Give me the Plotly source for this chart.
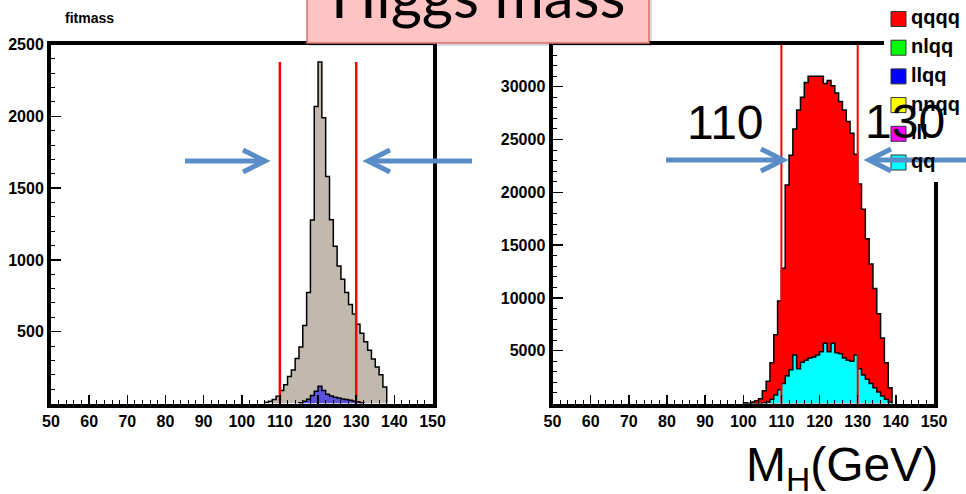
import plotly.graph_objects as go

W, H = 966, 494


def X(p):
    return p / W


def Y(p):
    return 1 - p / H


# ---------------- data ----------------
# left panel: fitmass (1 GeV bins, lower edges)
bins_left = [106, 107, 108, 109, 110, 111, 112, 113, 114, 115, 116, 117, 118, 119, 120, 121,
             122, 123, 124, 125, 126, 127, 128, 129, 130, 131, 132, 133, 134, 135, 136, 137]
fitmass_all = [8, 15, 27, 51, 90, 131, 188, 234, 314, 394, 543, 773, 1278, 2069, 2378, 1990,
               1580, 1280, 1095, 958, 865, 773, 690, 624, 552, 490, 430, 370, 310, 255, 200, 115]
bins_llqq = [115, 116, 117, 118, 119, 120, 121, 122, 123, 124, 125, 126, 127, 128, 129, 130, 131]
fitmass_llqq = [5, 15, 30, 55, 85, 120, 90, 65, 52, 44, 38, 32, 27, 22, 18, 12, 5]

# right panel: stacked by channel
bins_right = [100, 101, 102, 103, 104, 105, 106, 107, 108, 109, 110, 111, 112, 113, 114, 115,
              116, 117, 118, 119, 120, 121, 122, 123, 124, 125, 126, 127, 128, 129, 130, 131,
              132, 133, 134, 135, 136, 137, 138]
qq = [0, 0, 0, 0, 0, 80, 150, 400, 800, 1300, 1900, 2600, 3200, 4600, 3300, 3900,
      4100, 4300, 4400, 4600, 4900, 5700, 4900, 5700, 4800, 4700, 4300, 4100, 4000, 4600, 3300, 2700,
      2300, 1900, 1500, 1100, 700, 400, 150]
qqqq = [60, 0, 150, 250, 450, 1120, 1950, 3450, 5700, 8400, 10900, 18100, 20300, 21400, 24500, 25100,
        26300, 26700, 26600, 26400, 26100, 24600, 25700, 24400, 24600, 23900, 23500, 22600, 21600, 19000, 17500, 15700,
        13300, 11300, 9400, 7400, 5500, 3450, 1350]

cut_lo, cut_hi = 110, 130
x_ticks = [50, 60, 70, 80, 90, 100, 110, 120, 130, 140, 150]
y_ticks_left = [500, 1000, 1500, 2000, 2500]
y_ticks_right = [5000, 10000, 15000, 20000, 25000, 30000]
x_range = [50, 150]
y_range_left = [0, 2500]
y_range_right = [0, 34000]
legend_labels = ["qqqq", "nlqq", "llqq", "nnqq", "lll", "qq"]
legend_colors = ["#ff0000", "#00ff00", "#0000ff", "#ffff00", "#ff00ff", "#00ffff"]


def step(bins, vals):
    xs = [bins[0]] + list(bins) + [bins[-1] + 1]
    ys = [0] + list(vals) + [0]
    return xs, ys


fig = go.Figure()

# left panel
xs, ys = step(bins_left, fitmass_all)
fig.add_trace(go.Scatter(x=xs, y=ys, mode="lines", line=dict(shape="hv", color="black", width=1.5),
                         fill="tozeroy", fillcolor="#c1b8ae", xaxis="x", yaxis="y", hoverinfo="skip"))
xs, ys = step(bins_llqq, fitmass_llqq)
fig.add_trace(go.Scatter(x=xs, y=ys, mode="lines", line=dict(shape="hv", color="black", width=1.5),
                         fill="tozeroy", fillcolor="#5b50dc", xaxis="x", yaxis="y", hoverinfo="skip"))
for c in (cut_lo, cut_hi):
    fig.add_trace(go.Scatter(x=[c, c], y=[0, max(fitmass_all)], mode="lines",
                             line=dict(color="#ff0000", width=2.5), xaxis="x", yaxis="y", hoverinfo="skip"))

# right panel
total = [a + b for a, b in zip(qq, qqqq)]
xs, ys = step(bins_right, total)
fig.add_trace(go.Scatter(x=xs, y=ys, mode="lines", line=dict(shape="hv", color="black", width=1.5),
                         fill="tozeroy", fillcolor="#ff0000", xaxis="x2", yaxis="y2", hoverinfo="skip"))
xs, ys = step(bins_right, qq)
fig.add_trace(go.Scatter(x=xs, y=ys, mode="lines", line=dict(shape="hv", color="black", width=1.5),
                         fill="tozeroy", fillcolor="#00ffff", xaxis="x2", yaxis="y2", hoverinfo="skip"))
for c in (cut_lo, cut_hi):
    fig.add_trace(go.Scatter(x=[c, c], y=[0, y_range_right[1]], mode="lines",
                             line=dict(color="#ff0000", width=2), xaxis="x2", yaxis="y2", hoverinfo="skip"))

tickfont = dict(family="Liberation Sans, Arial", size=16, color="black", weight="bold")


def xaxis(domain, anchor):
    return dict(domain=domain, anchor=anchor, range=x_range, tickmode="array", tickvals=x_ticks,
                ticktext=[str(v) for v in x_ticks],
                ticks="inside", ticklen=9, tickwidth=1.5, tickcolor="black",
                minor=dict(tickmode="linear", tick0=50, dtick=2, ticks="inside", ticklen=4,
                           tickwidth=1, tickcolor="black"),
                showline=True, linewidth=4, linecolor="black", mirror=True, automargin=False,
                showgrid=False, zeroline=False, tickfont=tickfont, fixedrange=True)


def yaxis(domain, anchor, rng, tv, minor_dt):
    return dict(domain=domain, anchor=anchor, range=rng, tickmode="array", tickvals=tv,
                ticktext=[str(v) for v in tv],
                ticks="inside", ticklen=10, tickwidth=1.5, tickcolor="black",
                minor=dict(tickmode="linear", tick0=0, dtick=minor_dt, ticks="inside", ticklen=4,
                           tickwidth=1, tickcolor="black"),
                showline=True, linewidth=4, linecolor="black", mirror=True, automargin=False,
                showgrid=False, zeroline=False, tickfont=tickfont, fixedrange=True)


ydom = [Y(403.5), Y(44.5)]
shapes = []
# title box with shadow
shapes.append(dict(type="rect", xref="paper", yref="paper", x0=X(309), x1=X(652), y0=Y(46), y1=Y(-10),
                   fillcolor="rgba(0,0,0,0.15)", line=dict(width=0), layer="above"))
shapes.append(dict(type="rect", xref="paper", yref="paper", x0=X(307), x1=X(649), y0=Y(43), y1=Y(-10),
                   fillcolor="#ffc3c3", line=dict(color="#d8716f", width=1.5), layer="above"))
# legend box
shapes.append(dict(type="rect", xref="paper", yref="paper", x0=X(884), x1=X(968), y0=Y(182), y1=Y(-2),
                   fillcolor="white", line=dict(width=0), layer="above"))
for i, col in enumerate(legend_colors):
    top = 11.5 + i * 28.7
    shapes.append(dict(type="rect", xref="paper", yref="paper", x0=X(891), x1=X(906), y0=Y(top + 15), y1=Y(top),
                       fillcolor=col, line=dict(color="#333333", width=1), layer="above"))

# arrows
arrow_col = "#5a8dc8"


def arrow(x_from, x_to, y):
    d = 1 if x_to > x_from else -1
    shapes.append(dict(type="line", xref="paper", yref="paper", x0=X(x_from), x1=X(x_to - d * 2), y0=Y(y), y1=Y(y),
                       line=dict(color=arrow_col, width=5), layer="above"))
    path = "M {},{} L {},{} L {},{}".format(X(x_to - d * 22), Y(y - 11), X(x_to), Y(y), X(x_to - d * 22), Y(y + 11))
    shapes.append(dict(type="path", xref="paper", yref="paper", path=path,
                       line=dict(color=arrow_col, width=5), layer="above"))


arrow(185, 265, 161)
arrow(472, 368, 161)
arrow(666, 783, 160)
arrow(970, 869, 160)

annotations = []
annotations.append(dict(text="fitmass", x=X(89), y=Y(18), xref="paper", yref="paper", showarrow=False,
                        xanchor="center", yanchor="middle",
                        font=dict(family="Liberation Sans, Arial", size=14, color="black", weight="bold")))
annotations.append(dict(text="Higgs mass", x=X(478), y=Y(-5), xref="paper", yref="paper", showarrow=False,
                        xanchor="center", yanchor="middle",
                        font=dict(family="Lato, Open Sans", size=60, color="black")))
annotations.append(dict(text="110", x=X(725), y=Y(122), xref="paper", yref="paper", showarrow=False,
                        xanchor="center", yanchor="middle",
                        font=dict(family="Liberation Sans, Arial", size=48, color="black")))
annotations.append(dict(text="130", x=X(905), y=Y(121), xref="paper", yref="paper", showarrow=False,
                        xanchor="center", yanchor="middle",
                        font=dict(family="Liberation Sans, Arial", size=48, color="black")))
annotations.append(dict(text="M<sub>H</sub>(GeV)", x=X(744), y=Y(468), xref="paper", yref="paper", showarrow=False,
                        xanchor="left", yanchor="middle",
                        font=dict(family="Liberation Sans, Arial", size=48, color="black")))
for i, lab in enumerate(legend_labels):
    cy = 19 + i * 28.7
    annotations.append(dict(text=lab, x=X(909), y=Y(cy - 1.5), xref="paper", yref="paper", showarrow=False,
                            xanchor="left", yanchor="middle",
                            font=dict(family="Liberation Sans, Arial", size=20, color="black", weight="bold")))

fig.update_layout(
    width=W, height=H, margin=dict(l=0, r=0, t=0, b=0),
    paper_bgcolor="white", plot_bgcolor="white", showlegend=False,
    xaxis=xaxis([X(51), X(432.5)], "y"),
    yaxis=yaxis(ydom, "x", y_range_left, y_ticks_left, 100),
    xaxis2=xaxis([X(552.5), X(934)], "y2"),
    yaxis2=yaxis(ydom, "x2", y_range_right, y_ticks_right, 1000),
    shapes=shapes, annotations=annotations,
)

fig.write_html("out.html", config={"displayModeBar": False, "staticPlot": True},
               post_script="document.body.style.margin='0';document.body.style.overflow='hidden';")
